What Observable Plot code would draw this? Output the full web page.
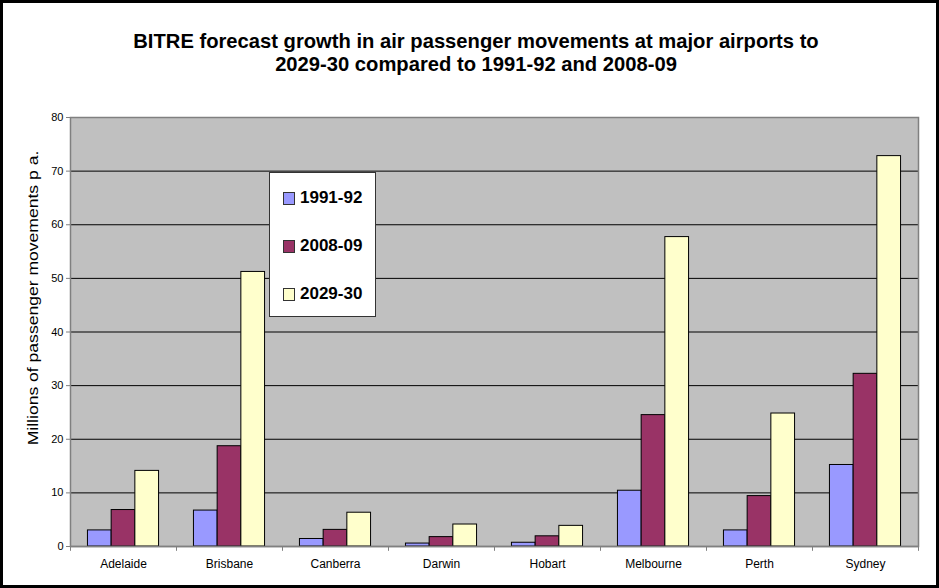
<!DOCTYPE html>
<html><head><meta charset="utf-8">
<script src="https://cdn.jsdelivr.net/npm/d3@7"></script>
<script src="https://cdn.jsdelivr.net/npm/@observablehq/plot@0.6"></script>
<style>
html,body{margin:0;padding:0;background:#fff;}
#wrap{position:relative;width:939px;height:588px;overflow:hidden;font-family:Arial,"Liberation Sans",sans-serif;}
#wrap svg{position:absolute;left:0;top:0;background:transparent;}
#border{position:absolute;left:0;top:0;width:939px;height:588px;box-sizing:border-box;border:3px solid #000;pointer-events:none;}
#title{position:absolute;left:0;width:952px;top:30px;text-align:center;font-weight:bold;font-size:20.2px;line-height:23px;color:#000;}
#ylabel{position:absolute;left:32px;top:298px;width:0;height:0;}
#ylabel span{position:absolute;left:0;top:0;white-space:nowrap;font-size:15px;transform:translate(-50%,-50%) rotate(-90deg) scaleX(1.17);}
#legend{position:absolute;left:269px;top:172px;width:107px;height:145px;box-sizing:border-box;border:1px solid #333;background:#fff;}
.item{position:absolute;left:13px;height:20px;display:flex;align-items:center;font-weight:bold;font-size:17px;}
.sw{width:10px;height:11px;border:1px solid #333;margin-right:5px;}
</style></head>
<body>
<div id="wrap"></div>
<script>
const cities = ["Adelaide","Brisbane","Canberra","Darwin","Hobart","Melbourne","Perth","Sydney"];
const seriesNames = ["1991-92","2008-09","2029-30"];
const seriesColors = ["#9999FF","#993366","#FFFFCC"];
const v1991 = [3.0, 6.7, 1.4, 0.55, 0.7, 10.4, 3.0, 15.2];
const v2008 = [6.8, 18.7, 3.1, 1.75, 1.9, 24.5, 9.4, 32.2];
const v2029 = [14.1, 51.2, 6.3, 4.1, 3.85, 57.7, 24.8, 72.8];
const yTicks = [0,10,20,30,40,50,60,70,80];
const yTitle = "Millions of passenger movements p a.";
const titleLines = ["BITRE forecast growth in air passenger movements at major airports to","2029-30 compared to 1991-92 and 2008-09"];

const seriesValues = [v1991, v2008, v2029];
const data = seriesNames.flatMap((s, i) => cities.map((c, j) => ({city: c, series: s, value: seriesValues[i][j]})));

const W = 939, H = 588, mL = 70, mR = 21, mT = 117, mB = 42;
const bw = (W - mL - mR) / cities.length;
const barW = bw * 0.2236;
const inset = (bw - barW) / 2;

const barMarks = seriesNames.map((s, i) => Plot.barY(data.filter(d => d.series === s), {
  x: "city", y: "value", fill: "series", stroke: "#000", strokeWidth: 1,
  insetLeft: inset, insetRight: inset, dx: (i - 1) * barW
}));

const chart = Plot.plot({
  width: W, height: H,
  marginLeft: mL, marginRight: mR, marginTop: mT, marginBottom: mB,
  style: {fontFamily: "Arial, 'Liberation Sans', sans-serif", color: "#000", background: "transparent"},
  x: {type: "band", domain: cities, padding: 0},
  y: {domain: [0, 80]},
  color: {domain: seriesNames, range: seriesColors},
  marks: [
    Plot.frame({fill: "#C0C0C0", stroke: "none"}),
    Plot.ruleY(yTicks.filter(t => t > 0 && t < 80), {stroke: "#000", strokeWidth: 1}),
    Plot.frame({stroke: "#808080", strokeWidth: 1.5}),
    ...barMarks,
    Plot.ruleY([0], {stroke: "#808080", strokeWidth: 1.5}),
    Plot.ruleX(cities, {x: d => d, y1: 0, y2: -0.9, dx: -bw / 2, stroke: "#808080"}),
    Plot.ruleX(cities.slice(-1), {x: d => d, y1: 0, y2: -0.9, dx: bw / 2, stroke: "#808080"}),
    Plot.axisY({ticks: yTicks, tickSize: 4, tickPadding: 3, fontSize: 11, label: null, stroke: "#808080"}),
    Plot.axisX({tickSize: 0, tickPadding: 13, fontSize: 12, label: null})
  ]
});

const wrap = document.getElementById("wrap");
wrap.appendChild(chart);

const title = document.createElement("div");
title.id = "title";
title.innerHTML = titleLines.join("<br>");
wrap.appendChild(title);

const yl = document.createElement("div");
yl.id = "ylabel";
yl.innerHTML = `<span>${yTitle}</span>`;
wrap.appendChild(yl);

const legend = document.createElement("div");
legend.id = "legend";
seriesNames.forEach((s, i) => {
  const it = document.createElement("div");
  it.className = "item";
  it.style.top = (15 + i * 48) + "px";
  it.innerHTML = `<div class="sw" style="background:${seriesColors[i]}"></div><span>${s}</span>`;
  legend.appendChild(it);
});
wrap.appendChild(legend);

const border = document.createElement("div");
border.id = "border";
wrap.appendChild(border);
</script>
</body></html>
